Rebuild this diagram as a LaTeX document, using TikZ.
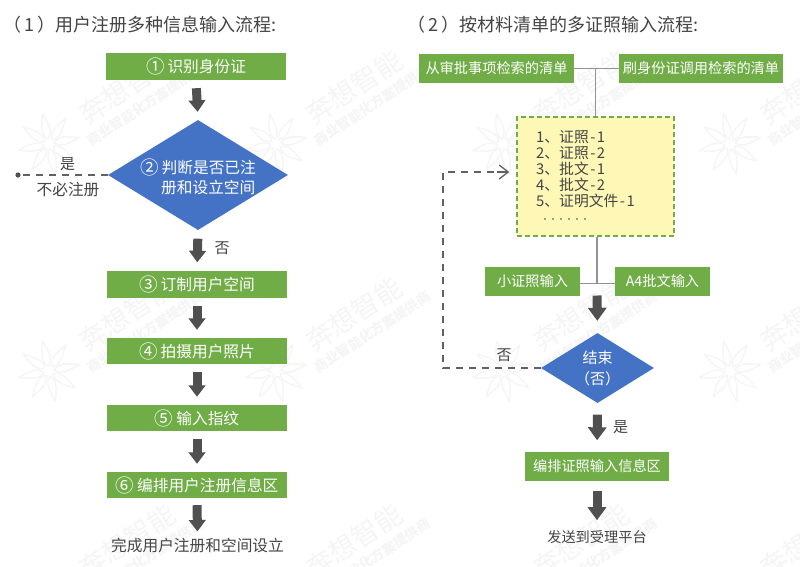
\documentclass[tikz,border=0pt]{standalone}
\usepackage{fontspec}
\setmainfont{Noto Sans CJK SC}
\usetikzlibrary{arrows.meta,shapes.geometric}
\definecolor{grn}{HTML}{70AD47}
\definecolor{blu}{HTML}{4472C4}
\definecolor{yel}{HTML}{FFF7B5}
\definecolor{ink}{HTML}{444444}
\definecolor{arr}{HTML}{505050}
\definecolor{wm}{HTML}{F5F5F5}
\newcommand{\cnum}[1]{{\fontsize{18.5}{19}\selectfont\raisebox{-0.8pt}{#1}}}
\newcommand{\hy}{\hspace{1.5pt}-\hspace{1.5pt}}
\tikzset{
  x=1pt,y=-1pt,
  boxstyle/.style={draw=none,fill=grn,text=white,inner sep=0pt,font=\fontsize{15.7}{19}\selectfont},
  boxsmall/.style={draw=none,fill=grn,text=white,inner sep=0pt,font=\fontsize{14.2}{17}\selectfont},
  diastyle/.style={diamond,draw=none,fill=blu,inner sep=0pt,aspect=1.6},
  whitetext/.style={text=white,inner sep=0pt,font=\fontsize{15.7}{19.5}\selectfont},
  plain/.style={text=ink,inner sep=0pt,font=\fontsize{15}{19}\selectfont},
  title/.style={text=ink,inner sep=0pt,anchor=west,font=\fontsize{18}{21}\selectfont},
  blockarrow/.style={draw=arr,line width=9pt,-{Triangle[width=16.5pt,length=11.5pt]},shorten <=#1,shorten >=#1},
  blockarrowb/.style={draw=arr,line width=9pt,-{Triangle[width=18pt,length=13pt]},shorten <=#1,shorten >=#1},
  thinline/.style={draw=gray!85,line width=1.2pt},
  dash line/.style={draw=arr!90,line width=1.3pt,dash pattern=on 7pt off 6pt},
  wmstar/.style={draw=wm,line width=1.3pt,line join=round},
  wmtext/.style={text=wm,rotate=33,inner sep=0pt,font=\fontsize{27}{29}\selectfont},
  wmsub/.style={text=wm,rotate=33,inner sep=0pt,font=\bfseries\fontsize{13.5}{15}\selectfont},
}
\begin{document}
\begin{tikzpicture}
\useasboundingbox (0,0) rectangle (800,566);
\fill[white] (0,0) rectangle (800,566);
\begin{scope}
\clip (0,0) rectangle (800,566);
\foreach \i in {0,...,3}{
 \foreach \j in {0,1}{
  \foreach \a in {12,57,...,372}{
   \draw[wmstar,shift={(49+227*\i,144+227*\j)},rotate=\a] (5,0) .. controls (11,-6) and (18,-4) .. (31,0) .. controls (18,4) and (11,6) .. (5,0);
  }
 }
 \foreach \j in {0,1,2}{
  \node[wmtext] at (127+227*\i,87+227*\j) {奔想智能};
  \node[wmsub] at (145+227*\i,105+227*\j) {商业智能化方案提供商};
 }
}
\end{scope}

% left flow
\node[title] (t1) at (3,25) {（\hspace{3pt}1\hspace{3pt}）用户注册多种信息输入流程:};
\node[boxstyle,minimum width=180pt,minimum height=27pt] (a1) at (196,66.5) {\cnum{①}\hspace{3pt}识别身份证};
\node[diastyle,minimum width=180pt,minimum height=110pt] (a2) at (198,175) {};
\node[whitetext,align=left] (a2t) at (198,176.5) {\cnum{②}\hspace{3pt}判断是否已注\\\hspace*{21pt}册和设立空间};
\node[boxstyle,minimum width=180pt,minimum height=27pt] (a3) at (197,284.5) {\cnum{③}\hspace{3pt}订制用户空间};
\node[boxstyle,minimum width=180pt,minimum height=26pt] (a4) at (197,351) {\cnum{④}\hspace{3pt}拍摄用户照片};
\node[boxstyle,minimum width=180pt,minimum height=26pt] (a5) at (197,418) {\cnum{⑤}\hspace{3pt}输入指纹};
\node[boxstyle,minimum width=180pt,minimum height=26pt] (a6) at (197,485) {\cnum{⑥}\hspace{3pt}编排用户注册信息区};
\node[plain,font=\fontsize{15.7}{19}\selectfont] (a7) at (197.5,546) {完成用户注册和空间设立};
\coordinate (dot) at (18,175);
\fill[arr] (dot) circle (2.6pt);
\draw[dash line] (a2.west) -- (dot);
\node[plain] (yes1) at (67.5,164) {是};
\node[plain,font=\fontsize{15.7}{19}\selectfont] (skip) at (68,190) {不必注册};
\node[plain] (no1) at (222,248) {否};
\draw[blockarrow=8pt] (a1.south) -- (a2.north);
\draw[blockarrow=8.5pt] (a2.south) -- (a3.north);
\draw[blockarrow=8pt] (a3.south) -- (a4.north);
\draw[blockarrow=8pt] (a4.south) -- (a5.north);
\draw[blockarrow=8pt] (a5.south) -- (a6.north);
\draw[blockarrow=7pt] (a6.south) -- (a7.north);

% right flow
\node[title] (t2) at (407,25) {（\hspace{3pt}2\hspace{3pt}）按材料清单的多证照输入流程:};
\node[boxsmall,minimum width=155pt,minimum height=29pt] (b1) at (496.5,68.5) {从审批事项检索的清单};
\node[boxsmall,minimum width=164pt,minimum height=29pt] (b2) at (701,68.5) {刷身份证调用检索的清单};
\node[draw=grn,fill=yel,line width=1.5pt,dash pattern=on 5pt off 3pt,minimum width=157pt,minimum height=119pt,inner sep=0pt] (list) at (595.5,176.5) {};
\node[text=ink,inner sep=0pt,align=left,anchor=north west,font=\fontsize{14.8}{16}\selectfont] (listt) at (536,130) {1、证照\hy 1\\2、证照\hy 2\\3、批文\hy 1\\4、批文\hy 2\\5、证明文件\hy 1\\\hspace*{5pt}{\fontsize{8}{8}\selectfont ······}};
\coordinate (top) at (595.5,68.5);
\draw[thinline] (b1.east) -- (b2.west);
\draw[thinline] (top) -- (list.north -| top);
\node[boxsmall,minimum width=95pt,minimum height=29pt] (c1) at (532.5,281.5) {小证照输入};
\node[boxsmall,minimum width=95pt,minimum height=29pt] (c2) at (662.5,281.5) {A4批文输入};
\coordinate (join) at (597,283.5);
\draw[thinline] (c1.east |- join) -- (c2.west |- join);
\draw[thinline] (list.south -| join) -- (join);
\node[diastyle,minimum width=113pt,minimum height=70pt] (d) at (597.5,368) {};
\node[whitetext,align=center,font=\fontsize{15}{21}\selectfont] (dt) at (597.5,368.5) {结束\\（否）};
\node[boxsmall,minimum width=144pt,minimum height=29pt] (e) at (597,466.5) {编排证照输入信息区};
\node[plain,font=\fontsize{14.2}{17}\selectfont] (f) at (597,537) {发送到受理平台};
\node[plain] (no2) at (504,355) {否};
\node[plain] (yes2) at (620.5,427) {是};
\draw[blockarrowb=12pt] (join) -- (d.north);
\draw[blockarrowb=11.5pt] (d.south) -- (e.north);
\draw[blockarrowb=10pt] (e.south) -- (f.north);
\coordinate (corner1) at (443,368);
\coordinate (corner2) at (443,172);
\draw[dash line] (d.west) -- (corner1) -- (corner2) -- ([xshift=-7pt]list.west |- corner2);
\draw[draw=arr!90,line width=1.3pt,{Straight Barb[length=9pt,width=14pt]}-] ([xshift=-7pt]list.west |- corner2) -- ++(-12,0);
\end{tikzpicture}
\end{document}
